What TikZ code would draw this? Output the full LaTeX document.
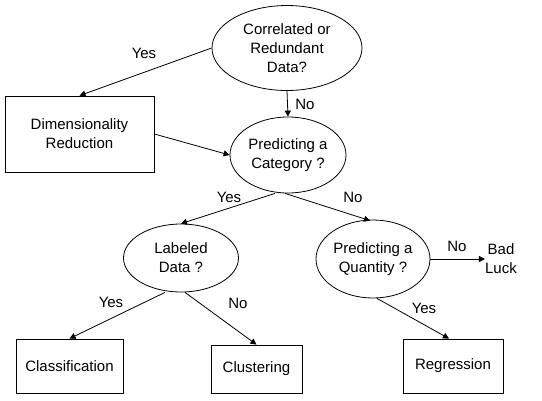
\documentclass[tikz,border=0pt]{standalone}
\usepackage{fontspec}
\setmainfont{Liberation Sans}
\usetikzlibrary{arrows.meta,shapes.geometric,calc}
\begin{document}
\begin{tikzpicture}[x=1pt,y=-1pt,
  every node/.style={font=\fontsize{15}{19}\selectfont},
  dec/.style={ellipse,draw,line width=0.8pt,inner sep=-20pt,align=center},
  box/.style={rectangle,draw,line width=0.8pt,inner sep=0pt,align=center},
  lbl/.style={inner sep=0pt},
  arr/.style={-{Triangle[length=6pt,width=6pt]},line width=0.8pt}]
\useasboundingbox (0,0) rectangle (542,400);
% decisions
\node[dec,minimum width=150pt,minimum height=85pt] (corr) at (287,48) {Correlated or\\Redundant\\Data?};
\node[dec,minimum width=116pt,minimum height=76pt] (cat) at (288,155) {Predicting a\\Category ?};
\node[dec,minimum width=115pt,minimum height=68pt] (lab) at (181,258) {Labeled\\Data ?};
\node[dec,minimum width=114pt,minimum height=78pt] (qty) at (373,259) {Predicting a\\Quantity ?};
% boxes
\node[box,minimum width=149pt,minimum height=76pt] (dim) at (79.5,134) {Dimensionality\\Reduction};
\node[box,minimum width=107pt,minimum height=54pt] (cls) at (69.5,366) {Classification};
\node[box,minimum width=91pt,minimum height=48pt] (clu) at (256.5,369) {Clustering};
\node[box,minimum width=100pt,minimum height=54pt] (reg) at (453,366) {Regression};
\node[lbl,align=center] (bad) at (501,259) {Bad\\Luck};
% connectors
\draw[arr] (corr.west) -- (dim.north);
\draw[arr] (corr.south) -- (cat.north);
\draw[arr] (dim.east) -- (cat.west);
\coordinate (c1) at ($(cat.south)+(-13,0)$);
\coordinate (c2) at ($(cat.south)+(-3,0)$);
\coordinate (l1) at ($(lab.south)+(-16,0)$);
\coordinate (l2) at ($(lab.south)+(4,0)$);
\coordinate (q1) at ($(qty.south)+(4,0)$);
\draw[arr] (c1) -- (lab.north);
\draw[arr] (c2) -- ($(qty.north)+(-3,1)$);
\draw[arr] (qty.east) -- (bad.west);
\draw[arr] (l1) -- (cls.north);
\draw[arr] (l2) -- (clu.north);
\draw[arr] (q1) -- ($(reg.north)+(-4,0)$);
% labels
\node[lbl] (y1) at (144,53) {Yes};
\node[lbl] (n1) at (305,104) {No};
\node[lbl] (y2) at (229,197) {Yes};
\node[lbl] (n2) at (353,197) {No};
\node[lbl] (n3) at (457,246) {No};
\node[lbl] (y3) at (111,302) {Yes};
\node[lbl] (n4) at (238,303) {No};
\node[lbl] (y4) at (424,308) {Yes};
\end{tikzpicture}
\end{document}
